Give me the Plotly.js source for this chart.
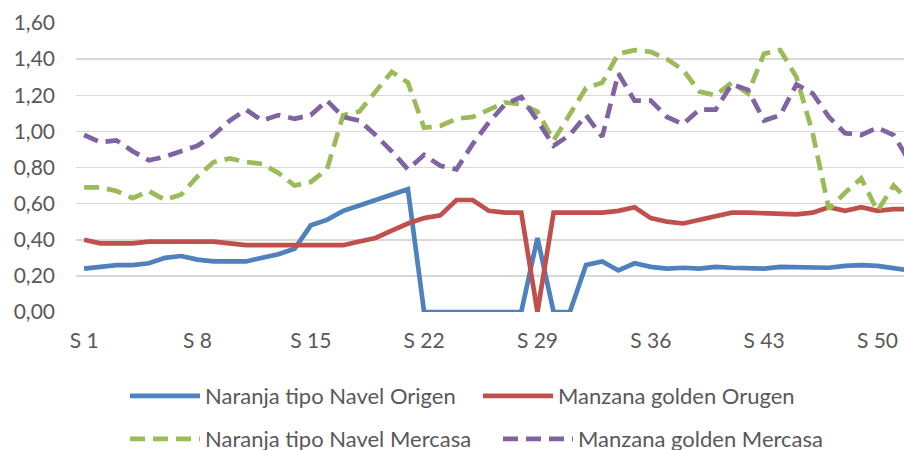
<!DOCTYPE html>
<html>
<head>
<meta charset="utf-8">
<script src="https://cdn.plot.ly/plotly-3.0.1.min.js"></script>
<style>html,body{margin:0;padding:0;background:#fff;}#chart{width:904px;height:450px;}</style>
</head>
<body>
<div id="chart"></div>
<script>
const weeks = ["S 1","S 2","S 3","S 4","S 5","S 6","S 7","S 8","S 9","S 10","S 11","S 12","S 13","S 14","S 15","S 16","S 17","S 18","S 19","S 20","S 21","S 22","S 23","S 24","S 25","S 26","S 27","S 28","S 29","S 30","S 31","S 32","S 33","S 34","S 35","S 36","S 37","S 38","S 39","S 40","S 41","S 42","S 43","S 44","S 45","S 46","S 47","S 48","S 49","S 50","S 51","S 52"];
const naranjaOrigen = [0.24,0.25,0.26,0.26,0.27,0.30,0.31,0.29,0.28,0.28,0.28,0.30,0.32,0.35,0.48,0.51,0.56,0.59,0.62,0.65,0.68,0,0,0,0,0,0,0,0.41,0,0,0.26,0.28,0.23,0.27,0.25,0.24,0.245,0.24,0.25,0.245,0.24,0.24,0.25,0.25,0.245,0.245,0.255,0.26,0.255,0.24,0.23];
const manzanaOrigen = [0.40,0.38,0.38,0.38,0.39,0.39,0.39,0.39,0.39,0.38,0.37,0.37,0.37,0.37,0.37,0.37,0.37,0.39,0.41,0.45,0.49,0.52,0.535,0.62,0.62,0.56,0.55,0.55,0,0.55,0.55,0.55,0.55,0.56,0.58,0.52,0.50,0.49,0.51,0.53,0.55,0.55,0.545,0.54,0.54,0.55,0.58,0.56,0.58,0.56,0.57,0.57];
const naranjaMercasa = [0.69,0.69,0.67,0.63,0.67,0.62,0.65,0.75,0.83,0.85,0.83,0.82,0.77,0.70,0.72,0.79,1.09,1.11,1.22,1.33,1.27,1.02,1.03,1.07,1.08,1.12,1.16,1.15,1.11,0.95,1.09,1.24,1.27,1.43,1.45,1.44,1.40,1.34,1.22,1.20,1.27,1.21,1.43,1.45,1.30,0.99,0.57,0.66,0.74,0.56,0.70,0.61];
const manzanaMercasa = [0.98,0.94,0.95,0.89,0.84,0.86,0.89,0.92,0.98,1.06,1.12,1.06,1.09,1.07,1.09,1.17,1.08,1.06,0.98,0.89,0.79,0.87,0.81,0.79,0.93,1.05,1.15,1.19,1.06,0.92,0.98,1.09,0.97,1.32,1.17,1.17,1.08,1.04,1.12,1.12,1.26,1.23,1.06,1.09,1.26,1.21,1.08,0.99,0.98,1.02,0.98,0.83];
const seriesNames = ["Naranja tipo Navel Origen","Manzana golden Orugen","Naranja tipo Navel Mercasa","Manzana golden Mercasa"];
const tickWeeks = ["S 1","S 8","S 15","S 22","S 29","S 36","S 43","S 50"];
const yTicks = [0,0.2,0.4,0.6,0.8,1.0,1.2,1.4,1.6];

const FONT = "Lato, 'Open Sans', sans-serif";
const TXT = "#595959";
const W = 4.7;
const DASH = "15px,8px";

const traces = [
  {x: weeks, y: naranjaOrigen, name: seriesNames[0], type: "scatter", mode: "lines",
   line: {color: "#4F81BD", width: W}, legend: "legend"},
  {x: weeks, y: manzanaOrigen, name: seriesNames[1], type: "scatter", mode: "lines",
   line: {color: "#C0504D", width: W}, legend: "legend2"},
  {x: weeks, y: naranjaMercasa, name: seriesNames[2], type: "scatter", mode: "lines",
   line: {color: "#9BBB59", width: W, dash: DASH}, legend: "legend3"},
  {x: weeks, y: manzanaMercasa, name: seriesNames[3], type: "scatter", mode: "lines",
   line: {color: "#8064A2", width: W, dash: DASH}, legend: "legend4"}
];

const legendCommon = {
  orientation: "h", xref: "container", yref: "container", xanchor: "left", yanchor: "middle",
  font: {family: FONT, size: 22, color: TXT}, itemwidth: 70, bgcolor: "rgba(0,0,0,0)"
};
function leg(xpx, ypx) { return Object.assign({}, legendCommon, {x: xpx / 904, y: 1 - ypx / 450}); }

const layout = {
  width: 904, height: 450,
  margin: {l: 76, r: 0, t: 23, b: 138, pad: 0},
  paper_bgcolor: "#ffffff", plot_bgcolor: "#ffffff",
  separators: ",.",
  showlegend: true,
  font: {family: FONT, size: 21, color: TXT},
  xaxis: {
    type: "category", range: [-0.5, 50.64], tickmode: "array", tickvals: tickWeeks, ticktext: tickWeeks,
    showgrid: false, zeroline: false, showline: false, ticks: "",
    tickfont: {family: FONT, size: 21, color: TXT}, ticklabelstandoff: 14, fixedrange: true
  },
  yaxis: {
    range: [0, 1.6], tickmode: "array", tickvals: yTicks, tickformat: ".2f",
    showgrid: true, gridcolor: "#D9D9D9", gridwidth: 1.5, zeroline: false, showline: false, ticks: "",
    tickfont: {family: FONT, size: 21, color: TXT}, ticklabelstandoff: 20, fixedrange: true
  },
  legend: leg(125, 396),
  legend2: leg(478, 396),
  legend3: leg(125, 439),
  legend4: leg(498, 439)
};

Plotly.newPlot("chart", traces, layout, {displayModeBar: false, staticPlot: true});
</script>
</body>
</html>
